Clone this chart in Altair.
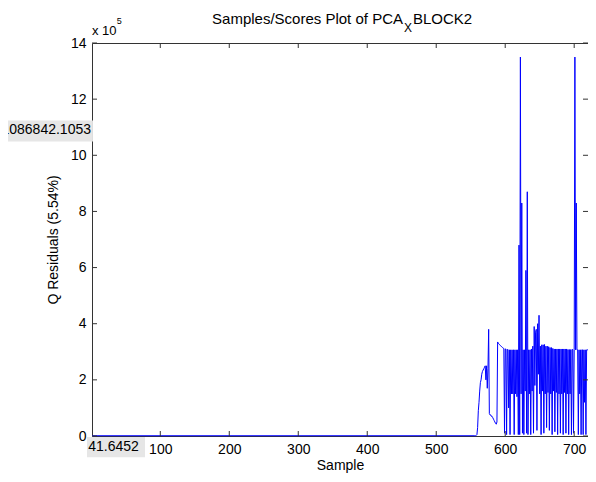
import altair as alt
import pandas as pd

# ---------------- data (Q residuals in units of 1e5) ----------------
base_samples = [1]
base_values = [0.01]

q_start = 556
q_values = [
    0.01, 0.01, 0.02, 0.05, 0.3, 0.9, 1.2, 1.6, 1.9, 2.0,      # 556-565
    2.2, 2.3, 2.35, 2.4, 2.45, 2.5, 2.0, 2.5, 1.7, 2.4,        # 566-575
    3.8, 0.8, 0.75, 0.75, 0.7, 0.7, 0.65, 0.6, 0.55, 0.5,      # 576-585
    0.45, 0.42, 0.5, 3.35, 3.3, 3.28, 3.25, 3.22, 3.2, 3.18,   # 586-595
    3.15, 3.13, 3.12, 0.1, 3.1, 3.1, 0.05, 3.08, 3.08, 1.0,    # 596-605
    3.07, 0.05, 3.07, 1.5, 3.07, 1.5, 3.07, 0.05, 3.07, 1.5,   # 606-615
    3.07, 1.4, 3.07, 0.05, 6.8, 0.05, 13.5, 1.5, 8.3, 0.1,     # 616-625
    3.07, 0.05, 3.07, 1.6, 5.9, 0.1, 8.7, 0.05, 3.07, 1.5,     # 626-635
    3.07, 0.05, 3.1, 1.6, 3.2, 0.1, 3.9, 1.8, 3.7, 3.8,        # 636-645
    0.2, 4.0, 2.2, 4.3, 1.5, 3.2, 0.05, 3.25, 1.6, 3.25,       # 646-655
    0.1, 3.26, 1.5, 3.2, 0.3, 3.2, 1.55, 3.18, 0.2, 3.15,      # 656-665
    1.5, 3.15, 0.05, 3.12, 1.6, 3.1, 0.15, 3.1, 1.55, 3.1,     # 666-675
    0.05, 3.1, 1.5, 3.1, 0.1, 3.1, 1.5, 3.1, 0.05, 3.1,        # 676-685
    1.55, 3.1, 0.1, 3.1, 1.5, 3.08, 0.05, 3.08, 1.5, 3.08,     # 686-695
    0.05, 3.08, 3.08, 0.1, 3.08, 13.5, 3.07, 8.3, 3.07, 3.07,  # 696-705
    0.05, 3.07, 1.5, 3.07, 0.05, 3.07, 3.07, 0.05, 3.07, 1.2,  # 706-715
    3.07, 0.05, 3.07, 3.07, 3.07,                              # 716-720
]

samples = base_samples + list(range(q_start, q_start + len(q_values)))
values = base_values + q_values

x_ticks = [100, 200, 300, 400, 500, 600, 700]
y_ticks = [0, 2, 4, 6, 8, 10, 12, 14]

# data-cursor tips
tip_y_value = 10.868421053   # 1086842.1053 / 1e5
tip_y_label = "1086842.1053"
tip_x_label = "41.6452"

# ---------------- layout constants ----------------
X_DOMAIN = [1, 720]
Y_DOMAIN = [0, 14]
W, H = 496, 393
TICK_Y = 5 / (H / 14)
TICK_X = 5 / (W / 719)
FONT = "Liberation Sans"

xs = alt.Scale(domain=X_DOMAIN, nice=False, zero=False)
ys = alt.Scale(domain=Y_DOMAIN, nice=False, zero=False)
x_axis = alt.Axis(values=x_ticks, title="Sample", labelPadding=6, titlePadding=2)
y_axis = alt.Axis(values=y_ticks, title="Q Residuals (5.54%)", labelPadding=6,
                  titlePadding=10)


def X(field):
    return alt.X(field, scale=xs, axis=x_axis)


def Y(field):
    return alt.Y(field, scale=ys, axis=y_axis)


df = pd.DataFrame({"Sample": samples, "Q": values})

line = alt.Chart(df).mark_line(color="#0000FF", strokeWidth=1).encode(
    x=X("Sample:Q"), y=Y("Q:Q"))

# inward ticks (MATLAB style, all four sides)
xt_rows = []
for t in x_ticks:
    xt_rows.append({"t": t, "a": Y_DOMAIN[0], "b": Y_DOMAIN[0] + TICK_Y})
    xt_rows.append({"t": t, "a": Y_DOMAIN[1], "b": Y_DOMAIN[1] - TICK_Y})
yt_rows = []
for t in y_ticks:
    yt_rows.append({"t": t, "a": X_DOMAIN[0], "b": X_DOMAIN[0] + TICK_X})
    yt_rows.append({"t": t, "a": X_DOMAIN[1], "b": X_DOMAIN[1] - TICK_X})

xtick = alt.Chart(pd.DataFrame(xt_rows)).mark_rule(color="#333333", strokeWidth=1).encode(
    x=X("t:Q"), y=Y("a:Q"), y2="b:Q")
ytick = alt.Chart(pd.DataFrame(yt_rows)).mark_rule(color="#333333", strokeWidth=1).encode(
    y=Y("t:Q"), x=X("a:Q"), x2="b:Q")

# data tip boxes
tip_box_y = alt.Chart(pd.DataFrame({"x0": [-160], "x1": [2.4],
                                    "y0": [tip_y_value - 0.38], "y1": [tip_y_value + 0.37]})
                      ).mark_rect(color="#E6E6E6").encode(
    x=X("x0:Q"), x2="x1:Q", y=Y("y0:Q"), y2="y1:Q")
tip_txt_y = alt.Chart(pd.DataFrame({"x": [1], "y": [tip_y_value], "s": [tip_y_label]})
                      ).mark_text(align="right", baseline="middle", dx=-1, dy=-1,
                                  font=FONT, fontSize=14, color="black").encode(
    x=X("x:Q"), y=Y("y:Q"), text="s:N")

tip_box_x = alt.Chart(pd.DataFrame({"x0": [-6.2], "x1": [77.8],
                                    "y0": [-0.04], "y1": [-0.76]})
                      ).mark_rect(color="#E6E6E6").encode(
    x=X("x0:Q"), x2="x1:Q", y=Y("y0:Q"), y2="y1:Q")
tip_txt_x = alt.Chart(pd.DataFrame({"x": [-4.4], "y": [-0.4], "s": [tip_x_label]})
                      ).mark_text(align="left", baseline="middle",
                                  font=FONT, fontSize=14, color="black").encode(
    x=X("x:Q"), y=Y("y:Q"), text="s:N")

# exponent label and title (with subscript X), anchored to the top edge of the axes
ann = pd.DataFrame({
    "x": [1, 37, 451.8, 451.8, 466.3],
    "y": [14, 14, 14, 14, 14],
    "s": ["x 10", "5", "Samples/Scores Plot of PCA", "X", "BLOCK2"],
})


def ann_text(i, **kw):
    return alt.Chart(ann.iloc[[i]]).mark_text(font=FONT, color="black",
                                              baseline="alphabetic", **kw).encode(
        x=X("x:Q"), y=Y("y:Q"), text="s:N")


exp_main = ann_text(0, align="left", dy=-8, fontSize=13)
exp_sup = ann_text(1, align="left", dy=-19, fontSize=9)
title_main = ann_text(2, align="right", dy=-19, fontSize=15)
title_sub = ann_text(3, align="left", dy=-11, dx=1, fontSize=12)
title_end = ann_text(4, align="left", dy=-19, fontSize=15)

chart = alt.layer(
    line, xtick, ytick, tip_box_y, tip_txt_y, tip_box_x, tip_txt_x,
    exp_main, exp_sup, title_main, title_sub, title_end,
).properties(
    width=W, height=H,
    padding={"left": 84, "top": 35, "right": 0, "bottom": 38},
    autosize=alt.AutoSizeParams(type="none"),
    background="white",
).configure_axis(
    labelFont=FONT, labelFontSize=14, labelColor="black",
    titleFont=FONT, titleFontSize=14, titleFontWeight="normal", titleColor="black",
    domain=False, grid=False, ticks=False,
).configure_view(
    stroke="#333333", strokeWidth=1,
)

chart.save("out.html", embed_options={"renderer": "svg", "actions": False})
